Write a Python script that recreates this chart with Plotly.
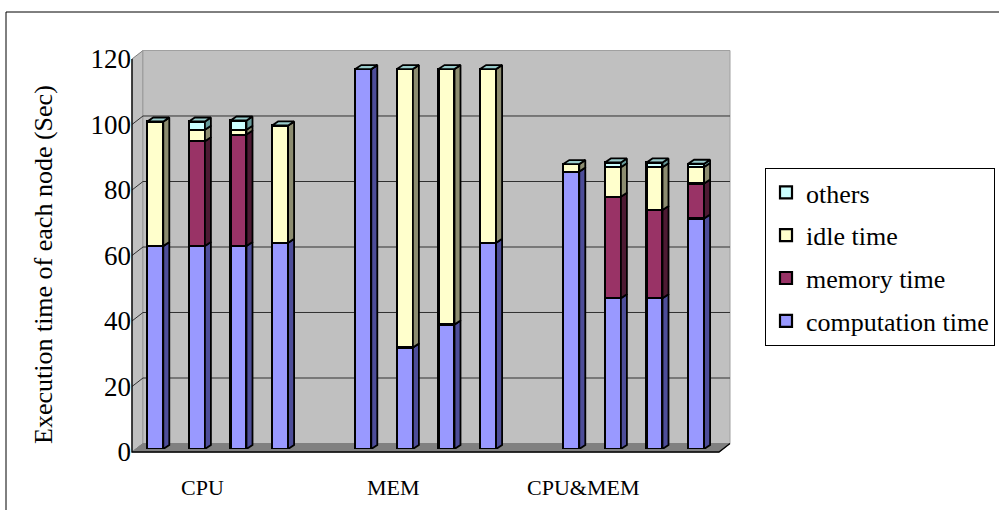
import plotly.graph_objects as go

# ---- data -------------------------------------------------------------
groups = ["CPU", "MEM", "CPU&MEM"]
nodes_per_group = 4

computation = [62, 62, 62, 63,   116, 31, 38, 63,   84.7, 46, 46, 70.4]
memory      = [0, 32, 34, 0,     0, 0, 0, 0,        0, 31, 27, 10.7]
idle        = [38, 3.5, 1.5, 35.8, 0, 85, 78, 53,   2.3, 9, 13, 5]
others      = [0, 2.5, 2.8, 0,   0, 0, 0, 0,        0, 1.5, 1.5, 1]

series_names = ["computation time", "memory time", "idle time", "others"]
front_colors = ["#9999FF", "#993366", "#FFFFCC", "#CCFFFF"]
side_colors = ["#4D4D99", "#4D1A33", "#8C8C70", "#669999"]
top_color = "#99CCCC"

y_ticks = [0, 20, 40, 60, 80, 100, 120]
y_title = "Execution time of each node (Sec)"

# ---- layout geometry (pixels) -----------------------------------------
W, H = 999, 510
L, R, T, B = 132, 730, 56, 449          # plot area (bar frame)
PW, PH = R - L, B - T
slot_px = 41.6                          # distance between neighbouring bars
first_px = 155.3                        # centre of the first bar
x_lo = (L - first_px) / slot_px
x_hi = (R - first_px) / slot_px
y_lo, y_hi = 0, 120

bar_w = 16 / slot_px                     # front face width (data units)
dx = 6 / slot_px                         # bar depth, horizontal
dy = 4 / (PH / (y_hi - y_lo))            # bar depth, vertical

# bar positions: one empty slot between groups
xpos = [g * (nodes_per_group + 1) + n
        for g in range(len(groups)) for n in range(nodes_per_group)]


def px(x):
    return (x - L) / PW


def py(y):
    return (B - y) / PH


font = "Liberation Serif, Times New Roman, serif"
fig = go.Figure()

# front faces
series = [computation, memory, idle, others]
for k, (name, vals, col) in enumerate(zip(series_names, series, front_colors)):
    fig.add_trace(go.Bar(
        x=xpos, y=vals, width=bar_w, name=name, legendgroup=name,
        legendrank=len(series) - k,
        marker=dict(color=col, line=dict(color="black", width=2.2)),
    ))

# side faces of every stacked segment
base = [0.0] * len(xpos)
for vals, col in zip(series, side_colors):
    xs, ys = [], []
    for i, xc in enumerate(xpos):
        b, t = base[i], base[i] + vals[i]
        xr = xc + bar_w / 2
        xs += [xr, xr + dx, xr + dx, xr, xr, None]
        ys += [b, b + dy, t + dy, t, b, None]
        base[i] = t
    fig.add_trace(go.Scatter(
        x=xs, y=ys, mode="lines", fill="toself", fillcolor=col,
        line=dict(color="black", width=1.8), showlegend=False,
        hoverinfo="skip",
    ))

# top faces
xs, ys = [], []
for i, xc in enumerate(xpos):
    t = base[i]
    xl, xr = xc - bar_w / 2, xc + bar_w / 2
    xs += [xl, xl + dx, xr + dx, xr, xl, None]
    ys += [t, t + dy, t + dy, t, t, None]
fig.add_trace(go.Scatter(
    x=xs, y=ys, mode="lines", fill="toself", fillcolor=top_color,
    line=dict(color="black", width=1.8), showlegend=False, hoverinfo="skip",
))

# ---- 3-D chart walls -----------------------------------------------------
shapes = []
back_off_x, back_off_y = 11, 8.5        # wall depth in pixels
front_shift = 3                         # front edge sits below the bar frame
yf0 = B + front_shift
yb0 = yf0 - back_off_y
xb = L + back_off_x


def pts(points):
    return " L ".join(f"{px(a):.5f},{py(b):.5f}" for a, b in points)


# side wall
shapes.append(dict(type="path", xref="paper", yref="paper", layer="below",
                   path="M " + pts([(L, T + front_shift), (xb, T + front_shift - back_off_y),
                                    (xb, yb0), (L, yf0)]) + " Z",
                   fillcolor="#C0C0C0", line=dict(color="#808080", width=1)))
# back wall
shapes.append(dict(type="rect", xref="paper", yref="paper", layer="below",
                   x0=px(xb), x1=px(R), y0=py(yb0), y1=py(T + front_shift - back_off_y),
                   fillcolor="#C0C0C0", line=dict(color="#A0A0A0", width=1)))
# floor
shapes.append(dict(type="path", xref="paper", yref="paper", layer="below",
                   path="M " + pts([(L, yf0), (xb, yb0), (R, yb0), (R - back_off_x, yf0)]) + " Z",
                   fillcolor="#808080", line=dict(color="#808080", width=1)))
# gridlines on side and back wall
for v in y_ticks[1:-1]:
    yfront = B - (v - y_lo) / (y_hi - y_lo) * PH + front_shift
    yback = yfront - back_off_y
    shapes.append(dict(type="path", xref="paper", yref="paper", layer="below",
                       path="M " + pts([(L, yfront), (xb, yback), (R, yback)]),
                       line=dict(color="#303030", width=1)))
# front axis and floor edge
shapes.append(dict(type="path", xref="paper", yref="paper", layer="below",
                   path="M " + pts([(L, T + front_shift), (L, yf0),
                                    (R - back_off_x, yf0), (R, yb0)]),
                   line=dict(color="black", width=1.3)))
# outer chart frame
shapes.append(dict(type="rect", xref="paper", yref="paper", layer="below",
                   x0=px(6), x1=px(W + 10), y0=py(H + 10), y1=py(12),
                   line=dict(color="black", width=1), fillcolor="rgba(0,0,0,0)"))

# ---- text --------------------------------------------------------------
annotations = []
label_px = [202, 393, 583]
for g, xp in zip(groups, label_px):
    annotations.append(dict(x=px(xp), y=py(487), xref="paper", yref="paper",
                            text=g, showarrow=False, xanchor="center",
                            yanchor="middle", font=dict(family=font, size=22)))
annotations.append(dict(x=px(43), y=py(265), xref="paper", yref="paper",
                        text=y_title, textangle=-90, showarrow=False,
                        xanchor="center", yanchor="middle",
                        font=dict(family=font, size=26)))

fig.update_layout(
    width=W, height=H, autosize=False,
    margin=dict(l=L, r=W - R, t=T, b=H - B, pad=0, autoexpand=False),
    barmode="stack",
    paper_bgcolor="white", plot_bgcolor="rgba(0,0,0,0)",
    font=dict(family=font, color="black"),
    shapes=shapes, annotations=annotations,
    xaxis=dict(range=[x_lo, x_hi], visible=False, fixedrange=True),
    yaxis=dict(range=[y_lo, y_hi], tickvals=y_ticks, showgrid=False,
               zeroline=False, showline=False, ticks="",
               tickfont=dict(family=font, size=27), ticklabelshift=3,
               ticklabelstandoff=0, fixedrange=True),
    legend=dict(x=px(765), y=py(168), xanchor="left", yanchor="top",
                traceorder="grouped", tracegroupgap=6,
                font=dict(family=font, size=26), bgcolor="white",
                bordercolor="black", borderwidth=1),
    showlegend=True,
)

fig.write_html("out.html")
